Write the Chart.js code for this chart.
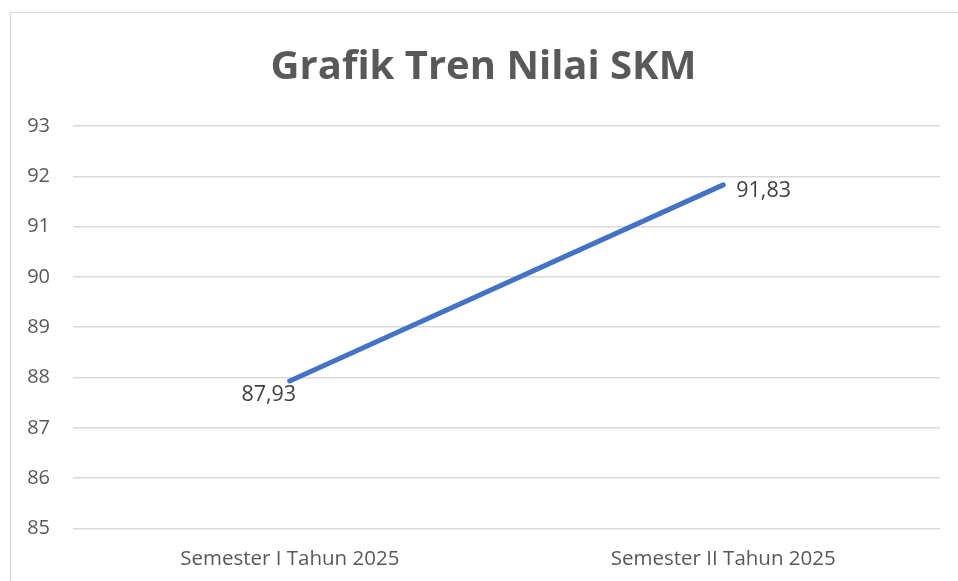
<!DOCTYPE html>
<html>
<head>
<meta charset="utf-8">
<script src="https://cdn.jsdelivr.net/npm/chart.js@4"></script>
<style>
    html, body { margin: 0; padding: 0; background: #fff; }
    #wrap { position: relative; width: 958px; height: 581px; overflow: hidden; }
    #frame { position: absolute; left: 10px; top: 12px; width: 980px; height: 600px; border: 1px solid #d9d9d9; box-sizing: border-box; }
    canvas { position: absolute; left: 0; top: 0; }
</style>
</head>
<body>
<div id="wrap">
    <div id="frame"></div>
    <canvas id="chart" width="958" height="581"></canvas>
</div>
<script>
const categories = ['Semester I Tahun 2025', 'Semester II Tahun 2025'];
const nilaiSKM = [87.93, 91.83];
const yTicks = [85, 86, 87, 88, 89, 90, 91, 92, 93];

const FONT = "'Open Sans', 'DejaVu Sans', sans-serif";

// labels next to the points, Excel style: "87,93"
const pointLabels = {
    id: 'pointLabels',
    afterDatasetsDraw(chart) {
        const ctx = chart.ctx;
        const meta = chart.getDatasetMeta(0);
        ctx.save();
        ctx.font = '21.5px ' + FONT;
        ctx.fillStyle = '#404040';
        ctx.textBaseline = 'middle';
        meta.data.forEach((pt, i) => {
            const txt = nilaiSKM[i].toFixed(2).replace('.', ',');
            if (i === 0) {
                ctx.textAlign = 'center';
                ctx.fillText(txt, pt.x - 21, pt.y + 14);
            } else {
                ctx.textAlign = 'left';
                ctx.fillText(txt, pt.x + 13, pt.y + 6);
            }
        });
        ctx.restore();
    }
};

new Chart(document.getElementById('chart'), {
    type: 'line',
    data: {
        labels: categories,
        datasets: [{
            data: nilaiSKM,
            borderColor: '#4472C4',
            borderWidth: 5,
            pointRadius: 0,
            borderCapStyle: 'round',
            tension: 0
        }]
    },
    options: {
        responsive: false,
        animation: false,
        layout: { padding: { left: 27, right: 18, top: 44, bottom: 0 } },
        plugins: {
            legend: { display: false },
            tooltip: { enabled: false },
            title: {
                display: true,
                text: 'Grafik Tren Nilai SKM',
                color: '#595959',
                font: { family: FONT, size: 40, weight: 'bold' },
                padding: { top: 0, bottom: 34 }
            }
        },
        scales: {
            x: {
                offset: true,
                grid: { display: false },
                border: { display: false },
                ticks: { color: '#595959', font: { family: FONT, size: 20.5 }, padding: 10, maxRotation: 0 }
            },
            y: {
                min: 85,
                max: 93,
                afterBuildTicks(axis) { axis.ticks = yTicks.map(v => ({ value: v })); },
                grid: { color: '#d9d9d9', lineWidth: 1.5, drawTicks: false },
                border: { display: false },
                ticks: { color: '#595959', font: { family: FONT, size: 20 }, padding: 23 },
                afterFit(axis) { axis.width = 46; }
            }
        }
    },
    plugins: [pointLabels]
});
</script>
</body>
</html>
